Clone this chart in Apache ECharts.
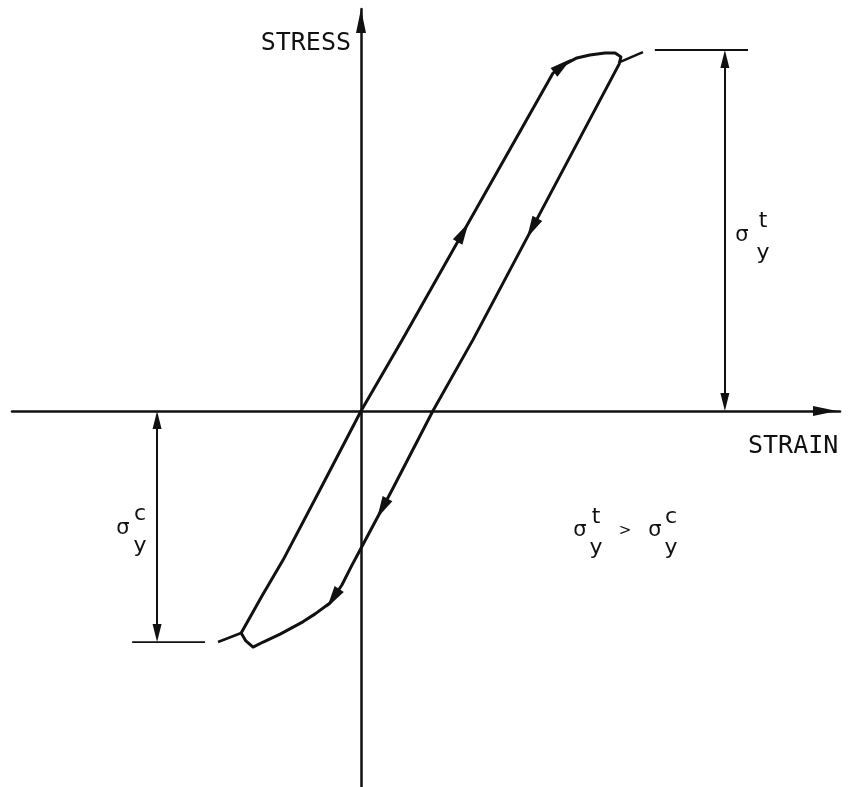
<!DOCTYPE html>
<html>
<head>
<meta charset="utf-8">
<script src="https://cdn.jsdelivr.net/npm/echarts@6/dist/echarts.min.js"></script>
<style>
  html, body { margin: 0; padding: 0; background: #fff; }
  #chart { width: 852px; height: 787px; }
</style>
</head>
<body>
<div id="chart"></div>
<script>
// strain / stress in arbitrary units (tensile yield = 10)
const loadingBranch = [[0, 0], [1.14, 1.97], [2.80, 4.90], [5.32, 9.36], [5.60, 9.58], [5.98, 9.78],
  [6.34, 9.86], [6.76, 9.92], [7.04, 9.92], [7.20, 9.81]];
const unloadingBranch = [[7.15, 9.61], [3.10, 1.97], [1.99, 0], [0.86, -2.19], [0, -3.80], [-0.25, -4.27],
  [-0.53, -4.82], [-0.86, -5.32], [-1.27, -5.62], [-1.61, -5.84], [-2.24, -6.18], [-2.71, -6.40],
  [-2.99, -6.54], [-3.19, -6.37], [-3.32, -6.15]];
const reloadingBranch = [[-3.32, -6.15], [-2.74, -5.12], [-2.16, -4.13], [-1.14, -2.19], [0, 0]];
const tensionTail = [[7.15, 9.66], [7.81, 9.94]];
const compressionTail = [[-3.96, -6.40], [-3.32, -6.15]];

const yieldTension = 10;
const yieldCompression = -6.4;
const tensionGuide = [8.14, 10.72];      // strain extent of the guide line
const compressionGuide = [-6.34, -4.32];
const tensionDimStrain = 10.08;
const compressionDimStrain = -5.65;

// where the direction arrows sit on the loop
const arrowMarks = [[2.80, 4.96], [5.60, 9.55], [4.74, 5.07], [0.60, -2.70], [-0.75, -5.20]];

const loop = loadingBranch.concat(unloadingBranch, reloadingBranch);

// axes use the same px per unit on x and y, so angles in data space are screen angles
function onLoop(p) {
  let best = null;
  for (let i = 0; i < loop.length - 1; i++) {
    const a = loop[i], b = loop[i + 1];
    const dx = b[0] - a[0], dy = b[1] - a[1];
    const len2 = dx * dx + dy * dy;
    if (!len2) continue;
    let t = ((p[0] - a[0]) * dx + (p[1] - a[1]) * dy) / len2;
    t = Math.max(0, Math.min(1, t));
    const q = [a[0] + t * dx, a[1] + t * dy];
    const d = (q[0] - p[0]) ** 2 + (q[1] - p[1]) ** 2;
    if (!best || d < best.d) best = { d, q, rot: Math.atan2(dy, dx) * 180 / Math.PI - 90 };
  }
  return { value: best.q, symbolRotate: best.rot };
}

const head = 'path://M5,0L10,24L0,24Z';
const ink = '#111';
const h = 0.25; // half an arrow head, in stress units

const chart = echarts.init(document.getElementById('chart'));

const hiddenAxis = {
  type: 'value',
  axisTick: { show: false },
  axisLabel: { show: false },
  splitLine: { show: false },
};

chart.setOption({
  animation: false,
  backgroundColor: '#fff',
  grid: { left: 12, right: 12, top: 9, bottom: 0 },
  xAxis: Object.assign({}, hiddenAxis, {
    min: -9.668, max: 13.269,
    axisLine: { onZero: true, symbol: ['none', head], symbolSize: [10, 30], symbolOffset: [0, -15],
      lineStyle: { color: ink, width: 2.5 } },
  }),
  yAxis: Object.assign({}, hiddenAxis, {
    min: -10.416, max: 11.136,
    axisLine: { onZero: true, symbol: ['none', head], symbolSize: [10, 24], symbolOffset: [0, -12],
      lineStyle: { color: ink, width: 2.5 } },
  }),
  series: [
    {
      type: 'line', data: loop, showSymbol: false, silent: true,
      lineStyle: { color: ink, width: 3, join: 'round' },
    },
    {
      type: 'line', data: tensionTail, showSymbol: false, silent: true,
      lineStyle: { color: ink, width: 2.5 },
    },
    {
      type: 'line', data: compressionTail, showSymbol: false, silent: true,
      lineStyle: { color: ink, width: 2.5 },
    },
    {
      type: 'line', showSymbol: false, silent: true,
      data: tensionGuide.map(x => [x, yieldTension]),
      lineStyle: { color: ink, width: 1.8 },
      markLine: {
        silent: true, symbol: [head, head], symbolSize: [9, 18],
        label: { show: false },
        lineStyle: { color: ink, width: 2, type: 'solid' },
        data: [
          [{ coord: [tensionDimStrain, yieldTension - h] }, { coord: [tensionDimStrain, h] }],
          [{ coord: [compressionDimStrain, -h] }, { coord: [compressionDimStrain, yieldCompression + h] }],
        ],
      },
    },
    {
      type: 'line', showSymbol: false, silent: true,
      data: compressionGuide.map(x => [x, yieldCompression]),
      lineStyle: { color: ink, width: 1.8 },
    },
    {
      type: 'scatter', silent: true,
      symbol: head, symbolSize: [11, 22],
      itemStyle: { color: ink, opacity: 1 },
      data: arrowMarks.map(onLoop),
    },
  ],
  graphic: [
    { type: 'text', x: 351, y: 43, style: { text: 'STRESS', font: '25px "DejaVu Sans Mono"', fill: ink, align: 'right', verticalAlign: 'middle', textAlign: 'right', textVerticalAlign: 'middle' } },
    { type: 'text', x: 748, y: 446, style: { text: 'STRAIN', font: '25px "DejaVu Sans Mono"', fill: ink, align: 'left', verticalAlign: 'middle', textAlign: 'left', textVerticalAlign: 'middle' } },
  ].concat([
    ['σ', 742, 236, 21], ['t', 763, 221, 22], ['y', 763, 253, 22],
    ['σ', 580, 531, 21], ['t', 596, 517, 22], ['y', 596, 548, 22],
    ['>', 625, 531, 15],
    ['σ', 655, 531, 21], ['c', 671, 517, 22], ['y', 671, 548, 22],
    ['σ', 123, 529, 21], ['c', 140, 514, 22], ['y', 140, 546, 22],
  ].map(([t, x, y, s]) => ({
    type: 'text', x, y,
    style: { text: t, font: s + 'px "DejaVu Sans"', fill: ink, align: 'center', verticalAlign: 'middle', textAlign: 'center', textVerticalAlign: 'middle' },
  }))),
});
</script>
</body>
</html>
